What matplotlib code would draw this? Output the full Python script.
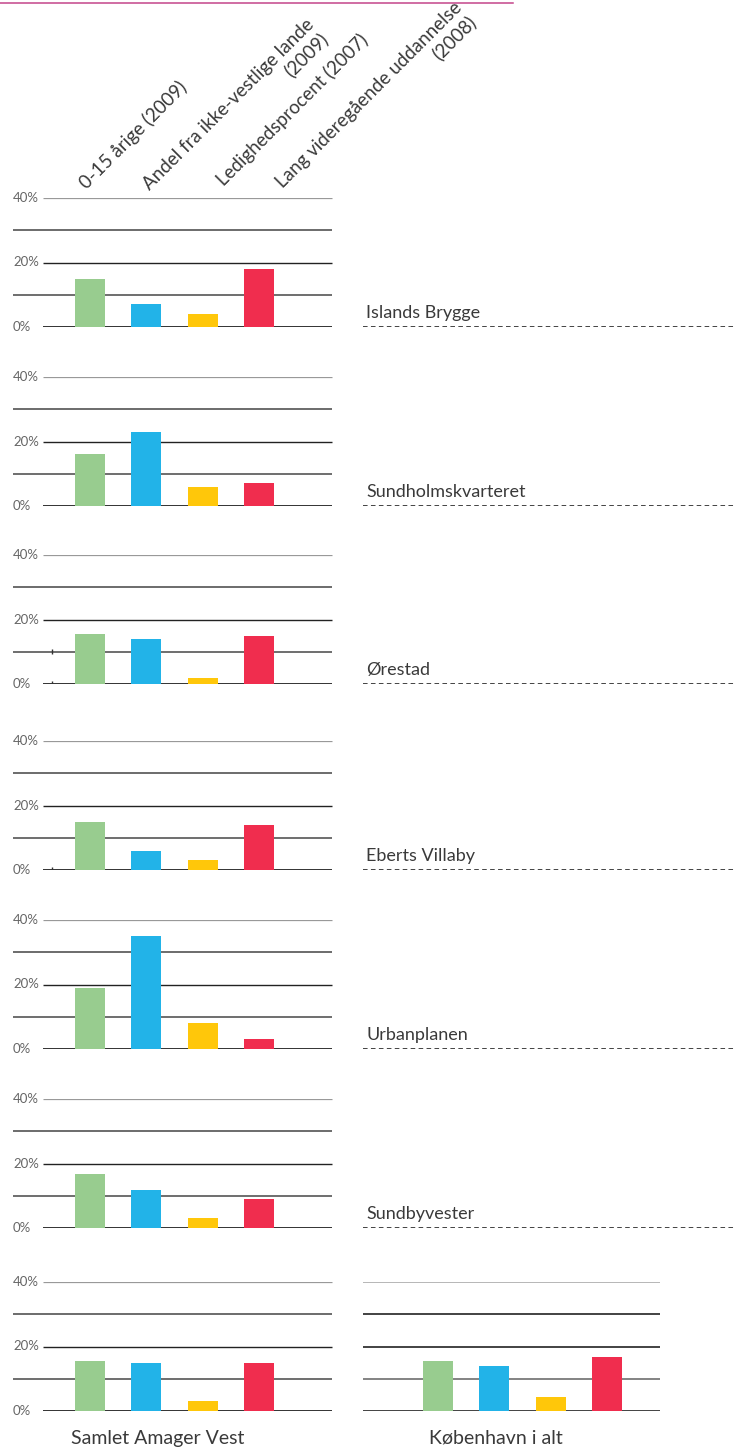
import numpy as np
import matplotlib
matplotlib.use('Agg')
import matplotlib.pyplot as plt
from matplotlib.lines import Line2D

plt.rcParams['font.family'] = ['Lato', 'DejaVu Sans']

# data
categories = ['0-15 årige (2009)',
              'Andel fra ikke-vestlige lande\n(2009)',
              'Ledighedsprocent (2007)',
              'Lang videregående uddannelse\n(2008)']
districts = ['Islands Brygge', 'Sundholmskvarteret', 'Ørestad',
             'Eberts Villaby', 'Urbanplanen', 'Sundbyvester']
islands_brygge = [15, 7, 4, 18]
sundholmskvarteret = [16, 23, 6, 7]
oerestad = [15.6, 14, 2, 15]
eberts_villaby = [15, 6, 3, 14]
urbanplanen = [19, 35, 8, 3]
sundbyvester = [16.7, 11.8, 3, 9]
samlet_amager_vest = [15.5, 15, 3.2, 15]
koebenhavn_i_alt = [15.5, 14, 4.4, 16.8]
totals = ['Samlet Amager Vest', 'København i alt']
ticks = [0, 20, 40]
tick_labels = ['0%', '20%', '40%']

colors = ['#98cc8f', '#22b3e8', '#ffc70a', '#f02d4e']

# layout (pixels)
W, H = 736, 1447
slot = 56.3
first_center = 90
bar_w = 30 / slot
zero_px = [327, 506, 684, 870, 1049, 1228, 1411]
panel_h = 129
header_px = [(87, 190), (147, 188), (224, 187), (280, 186)]
header_fs = 13.5
text_col = '#3a3a3a'
stray_ticks = {2: [0, 10], 3: [0]}

def px(p):
    return (p - first_center) / slot

grid_style = {0: ('#333333', 1.4), 10: ('#6e6e6e', 1.4), 20: ('#222222', 1.0),
              30: ('#444444', 1.1), 40: ('#999999', 0.9)}

fig = plt.figure(figsize=(W / 100, H / 100), dpi=100)
fig.add_artist(Line2D([0, 513 / W], [1 - 3 / H, 1 - 3 / H], color='#c4458a', lw=1.1))

x = np.arange(4)
rows = [islands_brygge, sundholmskvarteret, oerestad, eberts_villaby,
        urbanplanen, sundbyvester, samlet_amager_vest]

def grid(ax, left_px, left_long_px, right_px):
    for v, (c, lw) in grid_style.items():
        start = left_long_px if v in (10, 30) else left_px
        ax.hlines(v, px(start), px(right_px), color=c, lw=lw, zorder=1)

for i, vals in enumerate(rows):
    ax = fig.add_axes([0, (H - zero_px[i]) / H, 1, panel_h / H])
    ax.set_xlim(px(0), px(W))
    ax.set_ylim(0, 40)
    ax.axis('off')
    grid(ax, 43, 13, 332)
    ax.bar(x, vals, width=bar_w, color=colors, zorder=2)
    for t, lab in zip(ticks, tick_labels):
        ax.text(px(13), t, lab, ha='left', va='center', fontsize=9.5,
                color='#666666', zorder=3,
                bbox=dict(facecolor='white', edgecolor='none', pad=0.5))
    for v in stray_ticks.get(i, []):
        ax.vlines(px(52), v - 0.8, v + 0.8, color='#333333', lw=1.0, zorder=3)
    if i < len(districts):
        ax.plot([px(363), px(W)], [0, 0], color='#111111', lw=1.1,
                dashes=(3.0, 2.2), solid_capstyle='butt')
        ax.annotate(districts[i], (px(366), 0), xytext=(0, 9),
                    textcoords='offset pixels', ha='left', va='baseline',
                    fontsize=13, color=text_col)
    else:
        # København i alt in the same row
        kx = x + px(438)
        ax.hlines([0, 10, 20, 30, 40], px(363), px(660),
                  colors=['#222222', '#6e6e6e', '#222222', '#222222', '#aaaaaa'],
                  lw=1.2, zorder=1)
        ax.bar(kx, koebenhavn_i_alt, width=bar_w, color=colors, zorder=2)
        for cx, lab in zip([158, 496], totals):
            ax.annotate(lab, (px(cx), 0), xytext=(0, -33),
                        textcoords='offset pixels', ha='center', va='baseline',
                        fontsize=14, color=text_col, annotation_clip=False)
    if i == 0:
        line_step = header_fs * 1.15 * 100 / 72 * np.sqrt(0.5)
        for j, lab in enumerate(categories):
            hx, hy = header_px[j]
            n = lab.count('\n')
            ax.annotate(lab, (px(hx), 40),
                        xytext=(n * line_step, (zero_px[0] - panel_h - hy) - n * line_step),
                        textcoords='offset pixels', ha='left', va='baseline',
                        rotation=45, rotation_mode='anchor', linespacing=1.15,
                        multialignment='right', fontsize=header_fs,
                        color=text_col, annotation_clip=False)

fig.savefig('out.png', dpi=100)
